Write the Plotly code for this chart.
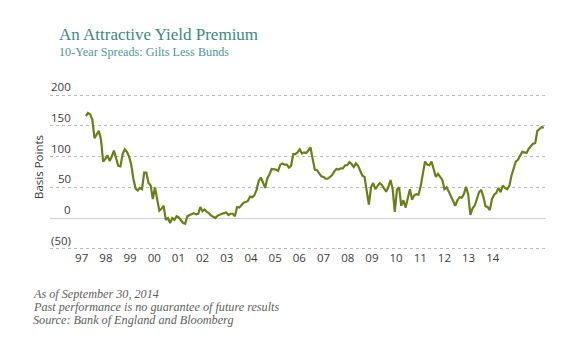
import numpy as np
import plotly.graph_objects as go

# Monthly 10-year gilt minus bund spread (basis points), Jan 1997 - Sep 2014
spread_bp = [
    166, 171, 169, 160, 130, 137, 142, 128, 92, 96, 102, 93,
    100, 110, 98, 85, 84, 104, 112, 108, 100, 87, 64, 48,
    45, 49, 47, 74, 74, 57, 53, 31, 50, 31, 12, 15,
    20, -3, 0, -8, 0, -3, 3, 1, -4, -8, -9, 3,
    5, 7, 8, 6, 7, 18, 11, 14, 10, 8, 4, 2,
    0, 4, 6, 7, 8, 9, 5, 7, 7, 3, 18, 17,
    21, 25, 26, 28, 35, 34, 37, 46, 60, 66, 58, 49,
    65, 71, 80, 80, 79, 77, 87, 89, 87, 87, 82, 85,
    104, 104, 107, 112, 105, 107, 106, 110, 115, 96, 79, 78,
    72, 68, 67, 64, 64, 67, 70, 76, 80, 79, 81, 81,
    86, 86, 91, 88, 83, 89, 85, 77, 69, 67, 44, 22,
    50, 57, 47, 53, 57, 54, 48, 43, 50, 62, 48, 10,
    46, 50, 20, 29, 17, 33, 47, 30, 37, 39, 38, 52,
    72, 92, 87, 86, 92, 77, 67, 72, 67, 62, 47, 50,
    43, 35, 25, 20, 29, 34, 33, 39, 51, 38, 5, 16,
    20, 33, 42, 46, 35, 19, 18, 13, 31, 38, 41, 49,
    42, 53, 49, 47, 52, 69, 80, 92, 95, 102, 108, 107,
    106, 113, 118, 121, 122, 142, 145, 148, 147,
]

year_labels = ["97", "98", "99", "00", "01", "02", "03", "04", "05",
               "06", "07", "08", "09", "10", "11", "12", "13", "14"]

y_ticks = [200, 150, 100, 50, 0, -50]
y_tick_labels = ["200", "150", "100", "50", "0", "(50)"]

title_text = "An Attractive Yield Premium"
subtitle_text = "10-Year Spreads: Gilts Less Bunds"
footnotes = [
    "As of September 30, 2014",
    "Past performance is no guarantee of future results",
    "Source: Bank of England and Bloomberg",
]

# canvas and plot-area geometry (pixels)
W, H = 580, 347
ML, MR, MT, MB = 50, 34, 94, 97
PW, PH = W - ML - MR, H - MT - MB

LINE_COLOR = "#6b7f18"
TEAL = "#3e8686"
TEAL_LIGHT = "#4f9595"
AXIS_TEXT = "#3a3a3a"
NOTE_GRAY = "#606060"
SANS = "Open Sans, Noto Sans, sans-serif"
SERIF = "Liberation Serif, Times New Roman, serif"
TEXT_LEFT = 31      # left edge of the footnote block
HEAD_LEFT = 57      # anchor of the heading block


def px_y(py):
    return (H - MB - py) / PH


months = np.arange(len(spread_bp))

fig = go.Figure()
fig.add_trace(go.Scatter(
    x=months, y=spread_bp, mode="lines",
    line=dict(color=LINE_COLOR, width=2.2),
    hoverinfo="skip", showlegend=False,
))
# invisible trace so the year-label axis is rendered
fig.add_trace(go.Scatter(
    x=[0], y=[0], xaxis="x2", mode="markers",
    marker=dict(opacity=0), hoverinfo="skip", showlegend=False,
))

fig.update_layout(
    width=W, height=H,
    margin=dict(l=ML, r=MR, t=MT, b=MB),
    paper_bgcolor="white", plot_bgcolor="white",
    xaxis=dict(
        range=[-16.6, 213.0], showgrid=False, zeroline=False,
        showticklabels=False, ticks="", showline=False,
    ),
    xaxis2=dict(
        overlaying="x", side="bottom", anchor="y",
        range=[-1.311, 19.2], tickmode="array",
        tickvals=list(range(len(year_labels))), ticktext=year_labels,
        showgrid=False, zeroline=False, showline=False, ticks="",
        tickfont=dict(family=SANS, size=11.5, color=AXIS_TEXT),
        ticklabelstandoff=-1,
    ),
    yaxis=dict(
        range=[-52, 202], tickmode="array", tickvals=y_ticks,
        showticklabels=False, ticks="",
        showgrid=True, gridcolor="#b8b8b8", gridwidth=1, griddash="dot",
        zeroline=True, zerolinecolor="#cfcfcf", zerolinewidth=1,
        showline=False,
    ),
)

annotations = []
for val, lab in zip(y_ticks, y_tick_labels):
    annotations.append(dict(
        x=0, xshift=73 - ML, xref="paper", y=val, yref="y",
        text=lab, showarrow=False, xanchor="right", yanchor="middle",
        align="right", yshift=8.5,
        font=dict(family=SANS, size=11.5, color=AXIS_TEXT),
    ))

annotations.append(dict(
    x=0, xshift=38 - ML, xref="paper", y=px_y(167), yref="paper",
    text="Basis Points", textangle=-90, showarrow=False,
    xanchor="center", yanchor="middle",
    font=dict(family=SANS, size=11.5, color=AXIS_TEXT),
))

annotations.append(dict(
    x=0, xshift=HEAD_LEFT - ML, xref="paper", y=px_y(34), yref="paper",
    text=title_text, showarrow=False, xanchor="left", yanchor="middle",
    align="left", font=dict(family=SERIF, size=17, color=TEAL),
))
annotations.append(dict(
    x=0, xshift=HEAD_LEFT - ML, xref="paper", y=px_y(52), yref="paper",
    text=subtitle_text, showarrow=False, xanchor="left", yanchor="middle",
    align="left", font=dict(family=SERIF, size=12.2, color=TEAL_LIGHT),
))

for i, note in enumerate(footnotes):
    annotations.append(dict(
        x=0, xshift=TEXT_LEFT - ML, xref="paper",
        y=px_y(294 + 13 * i), yref="paper",
        text=f"<i>{note}</i>", showarrow=False,
        xanchor="left", yanchor="middle", align="left",
        font=dict(family=SERIF, size=12.2, color=NOTE_GRAY),
    ))

fig.update_layout(annotations=annotations)
fig.write_html("out.html")
